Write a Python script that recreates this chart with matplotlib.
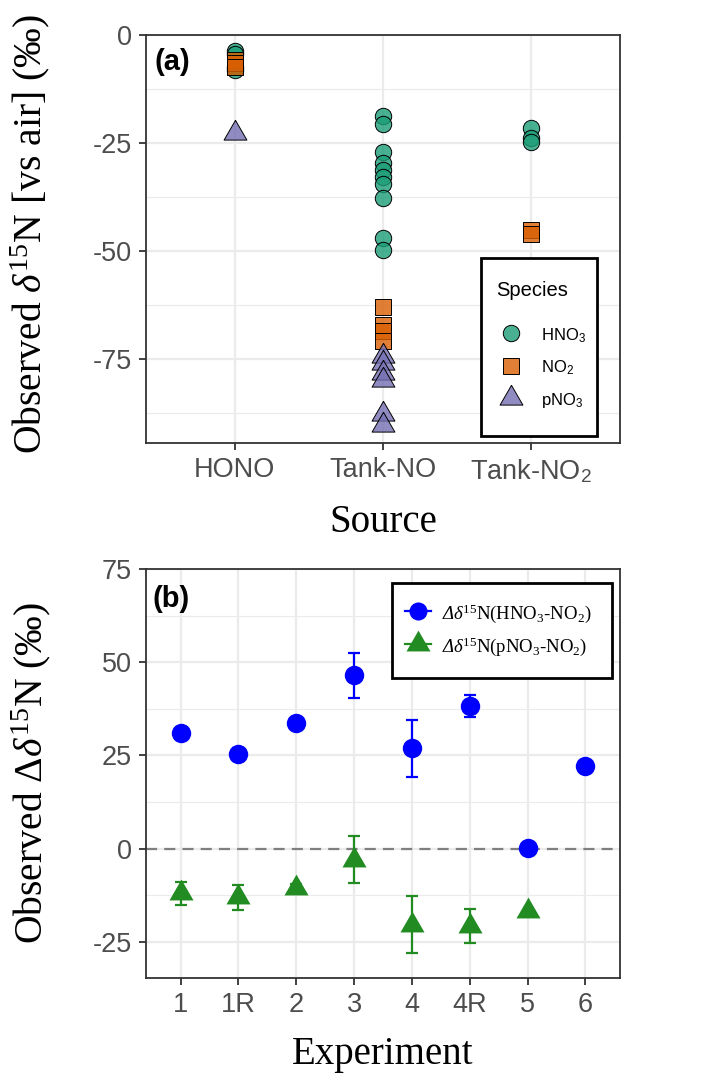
import numpy as np
import matplotlib
matplotlib.use('Agg')
import matplotlib.pyplot as plt
from matplotlib.lines import Line2D
from matplotlib.patches import Rectangle

plt.rcParams['font.family'] = ['Liberation Sans', 'DejaVu Sans']
plt.rcParams['mathtext.fontset'] = 'custom'
plt.rcParams['mathtext.rm'] = 'Liberation Serif'
plt.rcParams['mathtext.it'] = 'Liberation Serif:italic'
plt.rcParams['mathtext.bf'] = 'Liberation Serif:italic'
plt.rcParams['mathtext.sf'] = 'Liberation Sans'
plt.rcParams['axes.unicode_minus'] = False

# ---------------- data: panel (a) ----------------
sources = ['HONO', 'Tank-NO', 'Tank-NO$_\\mathsf{2}$']
species = ['HNO$_\\mathsf{3}$', 'NO$_\\mathsf{2}$', 'pNO$_\\mathsf{3}$']

hno3_hono = [-3.8, -4.5, -7.5, -8.1]
no2_hono = [-5.8, -6.4, -7.4]
pno3_hono = [-22.7]

hno3_tankno = [-18.8, -20.5, -27.0, -29.5, -31.2, -32.8, -34.5, -37.7, -47.0, -49.8]
no2_tankno = [-62.9, -67.2, -68.5, -70.8]
pno3_tankno = [-74.3, -76.0, -78.3, -79.9, -87.7, -90.2]

hno3_tankno2 = [-21.6, -23.8, -24.8]
no2_tankno2 = [-45.2, -46.0]
pno3_tankno2 = []

yticks_a = [0, -25, -50, -75]
yminor_a = [-12.5, -37.5, -62.5, -87.5]

# ---------------- data: panel (b) ----------------
experiments = ['1', '1R', '2', '3', '4', '4R', '5', '6']
d_hno3 = [30.9, 25.5, 33.8, 46.5, 26.9, 38.3, 0.3, 22.1]
d_hno3_err = [1.0, 1.5, 1.2, 6.0, 7.7, 2.9, 0.0, 0.0]
d_pno3 = [-12.0, -13.0, -10.5, -3.0, -20.4, -20.7, -16.8, np.nan]
d_pno3_err = [3.0, 3.35, 1.0, 6.3, 7.7, 4.5, 0.0, 0.0]

yticks_b = [75, 50, 25, 0, -25]
yminor_b = [62.5, 37.5, 12.5, -12.5]

# ---------------- styling ----------------
W, H = 728, 1074
fig = plt.figure(figsize=(W / 100, H / 100), dpi=100)

def fx(px):
    return px / W

def fy(py):
    return 1 - py / H

tri = [(0, 1), (-0.866, -0.5), (0.866, -0.5), (0, 1)]

dark2 = ['#1B9E77', '#D95F02', '#7570B3']
alpha = 0.8
shapes = ['o', 's', tri]
sizes = [11.8, 11.0, 19.0]

tick_color = '#4D4D4D'
axis_color = '#333333'
grid_color = '#EBEBEB'


def style_axes(ax):
    for sp in ax.spines.values():
        sp.set_color(axis_color)
        sp.set_linewidth(1.3)
    ax.tick_params(which='major', length=5, width=1.3, color=axis_color,
                   labelcolor=tick_color, labelsize=19.5, pad=5)
    ax.tick_params(which='minor', length=0)
    ax.grid(which='major', color=grid_color, linewidth=1.6, zorder=0)
    ax.grid(which='minor', axis='y', color=grid_color, linewidth=0.8, zorder=0)
    ax.set_axisbelow(True)


def rgba(c, a):
    r, g, b = matplotlib.colors.to_rgb(c)
    return (r, g, b, a)

# ================= panel (a) =================
ax1 = fig.add_axes([fx(146), fy(443), fx(620) - fx(146), fy(35) - fy(443)])
groups = [
    [hno3_hono, hno3_tankno, hno3_tankno2],
    [no2_hono, no2_tankno, no2_tankno2],
    [pno3_hono, pno3_tankno, pno3_tankno2],
]
for k, grp in enumerate(groups):
    for i, vals in enumerate(grp):
        if len(vals) == 0:
            continue
        ax1.scatter(np.full(len(vals), i), vals, s=sizes[k] ** 2, marker=shapes[k],
                    facecolors=[rgba(dark2[k], alpha)], edgecolors='black',
                    linewidths=0.7, zorder=3)

ax1.set_xlim(-0.6, 2.6)
ax1.set_ylim(-94.4, 0.0)
ax1.set_xticks(range(len(sources)))
ax1.set_xticklabels(sources)
ax1.set_yticks(yticks_a)
ax1.set_yticklabels([str(v) for v in yticks_a])
ax1.set_yticks(yminor_a, minor=True)
style_axes(ax1)

ax1.text(fx(155), fy(48), '(a)', transform=fig.transFigure, fontsize=21,
         fontweight='bold', va='top', ha='left', color='black')

# legend (a)
ax1.add_patch(Rectangle((fx(481), fy(436)), fx(597) - fx(481), fy(258) - fy(436),
                        transform=fig.transFigure, facecolor='white',
                        edgecolor='black', linewidth=2, zorder=4, clip_on=False))
ax1.text(fx(496), fy(290), 'Species', transform=fig.transFigure, fontsize=14.5,
         va='center', ha='left', color='black', zorder=6)
handles_a = [Line2D([0], [0], linestyle='none', marker=shapes[k], markersize=sizes[k],
                    markerfacecolor=rgba(dark2[k], alpha), markeredgecolor='black',
                    markeredgewidth=0.7) for k in range(3)]
leg_a = ax1.legend(handles_a, species, loc='center left',
                   bbox_to_anchor=(fx(496), fy(368)), bbox_transform=fig.transFigure,
                   frameon=False, borderpad=0, borderaxespad=0, fontsize=12,
                   handlelength=1.8, handleheight=1.4, handletextpad=0.9,
                   labelspacing=0.75)
leg_a.set_zorder(6)

# ================= panel (b) =================
ax2 = fig.add_axes([fx(146), fy(978), fx(620) - fx(146), fy(569) - fy(978)])
xb = np.arange(len(experiments))
ax2.axhline(0, color='#7F7F7F', linewidth=1.6, linestyle=(0, (5, 3.2)), zorder=2)

for vals, errs, col in [(d_hno3, d_hno3_err, 'blue'), (d_pno3, d_pno3_err, '#228B22')]:
    v = np.array(vals, dtype=float)
    e = np.array(errs, dtype=float)
    m = (e > 0) & ~np.isnan(v)
    ax2.errorbar(xb[m], v[m], yerr=e[m], fmt='none', ecolor=col,
                 elinewidth=1.6, capsize=4.4, capthick=1.6, zorder=3)

ax2.plot(xb, d_hno3, linestyle='none', marker='o', markersize=14, color='blue',
         markeredgewidth=0, zorder=4)
ax2.plot(xb, d_pno3, linestyle='none', marker=tri, markersize=20, color='#228B22',
         markeredgewidth=0, zorder=4)

ax2.set_xlim(-0.6, len(experiments) - 0.4)
ax2.set_ylim(-34.7, 74.9)
ax2.set_xticks(xb)
ax2.set_xticklabels(experiments)
ax2.set_yticks(yticks_b)
ax2.set_yticklabels([str(v) for v in yticks_b])
ax2.set_yticks(yminor_b, minor=True)
style_axes(ax2)

ax2.text(fx(152), fy(585), '(b)', transform=fig.transFigure, fontsize=21,
         fontweight='bold', va='top', ha='left', color='black')

# legend (b)
ax2.add_patch(Rectangle((fx(392), fy(678)), fx(612) - fx(392), fy(583) - fy(678),
                        transform=fig.transFigure, facecolor='white',
                        edgecolor='black', linewidth=2, zorder=5, clip_on=False))
handles_b = [
    Line2D([0], [0], color='blue', linewidth=1.6, marker='o', markersize=13,
           markeredgewidth=0),
    Line2D([0], [0], color='#228B22', linewidth=1.6, marker=tri, markersize=20,
           markeredgewidth=0),
]
labels_b = [r'$\mathbf{\Delta\delta}^{15}$N(HNO$_3$-NO$_2$)',
            r'$\mathbf{\Delta\delta}^{15}$N(pNO$_3$-NO$_2$)']
leg_b = ax2.legend(handles_b, labels_b, loc='center left',
                   bbox_to_anchor=(fx(405), fy(630)), bbox_transform=fig.transFigure,
                   frameon=False, borderpad=0, borderaxespad=0,
                   prop={'family': ['Liberation Serif', 'DejaVu Serif'], 'size': 13.5},
                   handlelength=1.4, handleheight=1.0, handletextpad=0.6,
                   labelspacing=0.55, numpoints=1)
leg_b.set_zorder(6)

# ================= axis titles =================
serif = ['Liberation Serif', 'DejaVu Serif']
fig.text(fx(383), fy(532), 'Source', fontsize=28, family=serif,
         ha='center', va='baseline')
fig.text(fx(383), fy(1064), 'Experiment', fontsize=28, family=serif,
         ha='center', va='baseline')
fig.text(fx(41), fy(234), r'Observed $\mathit{\delta}^{15}$N [vs air] (‰)', fontsize=28.5,
         family=serif, rotation=90, rotation_mode='anchor', ha='center', va='baseline')
fig.text(fx(42), fy(773.5), r'Observed $\Delta\mathit{\delta}^{15}$N (‰)', fontsize=28.5,
         family=serif, rotation=90, rotation_mode='anchor', ha='center', va='baseline')

fig.savefig('out.png', dpi=100)
